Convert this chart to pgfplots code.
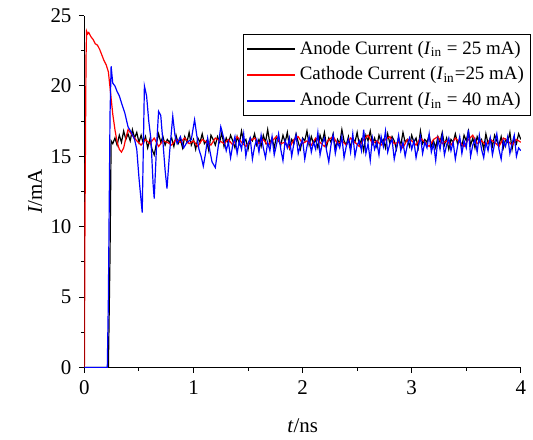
\documentclass[border=0pt]{standalone}
\usepackage{fontspec}
\setmainfont{Liberation Serif}
\usepackage{pgfplots}
\pgfplotsset{compat=1.18}

\begin{document}
\fontsize{10.5}{12}\selectfont
\begin{tikzpicture}
\begin{axis}[
    scale only axis,
    width=219pt,
    height=176.5pt,
    xmin=0, xmax=4,
    ymin=0, ymax=25,
    axis x line*=bottom,
    axis y line*=left,
    xtick={0,1,2,3,4},
    ytick={0,5,10,15,20,25},
    minor xtick={0.5,1.5,2.5,3.5},
    minor ytick={2.5,7.5,12.5,17.5,22.5},
    tick align=outside,
    major tick length=2.8pt,
    minor tick length=1.8pt,
    tick style={black, line width=0.5pt},
    axis line style={black, line width=0.5pt},
    /pgf/number format/assume math mode=true,
    ticklabel style={font=\fontsize{10.5}{12}\selectfont},
    xlabel={\textit{t}/ns},
    ylabel={\textit{I}/mA},
    label style={font=\fontsize{10.5}{12}\selectfont},
    xlabel style={yshift=-5pt},
    ylabel style={yshift=-3pt},
    legend style={at={(1.024,0.949)}, anchor=north east, draw=black,
        font=\fontsize{9.5}{11}\selectfont, inner sep=1.5pt, row sep=0.8pt,
        legend cell align=left},
    legend image code/.code={\draw[#1, line width=0.8pt] (0pt,0pt) -- (24pt,0pt);},
]
% anode current, I_in = 25 mA
\addplot[black, line width=0.6pt] coordinates {
(0,0) (0.22,0) (0.235,8) (0.245,16.1)
(0.26,15.9) (0.28,16.3) (0.30,15.8) (0.32,16.5) (0.34,16.0) (0.36,16.8) (0.38,16.2) (0.40,16.6) (0.42,16.1) (0.44,16.9)
(0.46,16.3) (0.48,16.7) (0.50,16.0) (0.52,16.5) (0.54,15.9) (0.56,16.4) (0.58,15.6) (0.60,16.2) (0.62,15.5) (0.64,15.1)
(0.66,15.9) (0.68,16.6) (0.70,16.0) (0.72,16.4) (0.74,15.8) (0.76,16.2) (0.78,16.0)
(0.80,16.3) (0.82,15.7) (0.84,16.5) (0.86,15.9) (0.88,16.2) (0.90,15.6) (0.92,16.4) (0.94,16.0) (0.96,16.7) (0.98,15.8)
(1.00,16.2) (1.02,15.5) (1.04,16.3) (1.06,16.0) (1.08,16.6) (1.10,15.9) (1.12,16.1) (1.14,15.4) (1.16,16.5) (1.18,16.2)
(1.20,15.8) (1.22,16.4) (1.24,16.0) (1.26,16.7) (1.28,15.7) (1.30,16.3) (1.32,15.9) (1.34,16.5) (1.36,16.1) (1.38,15.6)
(1.40,16.4) (1.42,15.9) (1.44,16.8) (1.46,16.0) (1.48,16.2) (1.50,15.5) (1.52,16.3) (1.54,16.1) (1.56,16.6) (1.58,15.8)
(1.60,16.2) (1.62,15.7) (1.64,16.5) (1.66,16.0) (1.68,16.9) (1.70,15.9) (1.72,16.3) (1.74,15.6) (1.76,16.4) (1.78,16.1)
(1.80,15.8) (1.82,16.5) (1.84,16.0) (1.86,16.7) (1.88,15.6) (1.90,16.2) (1.92,15.9) (1.94,16.6) (1.96,16.0) (1.98,15.5)
(2.00,16.3) (2.02,16.1) (2.04,16.8) (2.06,15.8) (2.08,16.4) (2.10,15.9) (2.12,16.2) (2.14,15.6) (2.16,16.5) (2.18,16.0)
(2.20,16.7) (2.22,15.7) (2.24,16.3) (2.26,16.0) (2.28,16.6) (2.30,15.5) (2.32,16.2) (2.34,15.9) (2.36,16.9) (2.38,16.1)
(2.40,15.8) (2.42,16.4) (2.44,15.6) (2.46,16.3) (2.48,16.0) (2.50,16.7) (2.52,15.8) (2.54,16.2) (2.56,15.4) (2.58,16.5)
(2.60,16.1) (2.62,16.8) (2.64,15.9) (2.66,16.3) (2.68,15.7) (2.70,16.5) (2.72,16.0) (2.74,16.2) (2.76,15.6) (2.78,16.6)
(2.80,15.9) (2.82,16.4) (2.84,16.1) (2.86,15.5) (2.88,16.3) (2.90,15.8) (2.92,16.7) (2.94,16.0) (2.96,16.2) (2.98,15.7)
(3.00,16.5) (3.02,16.0) (3.04,16.3) (3.06,15.6) (3.08,16.8) (3.10,15.9) (3.12,16.2) (3.14,16.0) (3.16,16.5) (3.18,15.7)
(3.20,16.1) (3.22,15.6) (3.24,16.4) (3.26,16.0) (3.28,16.7) (3.30,15.8) (3.32,16.3) (3.34,15.5) (3.36,16.2) (3.38,16.0)
(3.40,16.6) (3.42,15.9) (3.44,16.2) (3.46,15.7) (3.48,16.5) (3.50,16.1) (3.52,16.8) (3.54,15.8) (3.56,16.3) (3.58,15.6)
(3.60,16.4) (3.62,16.0) (3.64,16.2) (3.66,15.5) (3.68,16.6) (3.70,15.9) (3.72,16.3) (3.74,15.7) (3.76,16.5) (3.78,16.1)
(3.80,15.8) (3.82,16.4) (3.84,15.6) (3.86,16.2) (3.88,16.0) (3.90,16.7) (3.92,15.5) (3.94,16.3) (3.96,15.9) (3.98,16.6)
(4.00,16.2)
};
\addlegendentry{Anode Current (\textit{I}\textsubscript{in} = 25 mA)}
% cathode current, I_in = 25 mA
\addplot[red, line width=0.6pt] coordinates {
(0,0) (0.005,10) (0.015,22) (0.02,23.9) (0.03,23.7) (0.04,23.8) (0.06,23.5) (0.08,23.3) (0.10,23.0) (0.12,22.9)
(0.14,22.6) (0.16,22.2) (0.18,21.8) (0.20,21.5) (0.22,21.0) (0.24,19.5) (0.26,18.0) (0.28,16.9) (0.30,16.0) (0.32,15.5)
(0.34,15.3) (0.36,15.6) (0.38,16.3) (0.40,16.9)
(0.44,16.5) (0.48,16.1) (0.52,15.8) (0.56,16.2) (0.60,15.9) (0.64,16.3) (0.68,15.7) (0.72,16.1) (0.76,16.0) (0.80,15.8)
(0.84,16.2) (0.88,16.0) (0.92,16.3) (0.96,15.9) (1.00,16.1) (1.04,15.7) (1.08,16.2) (1.12,16.0) (1.16,15.8) (1.20,16.3)
(1.24,16.1) (1.28,15.9) (1.32,16.2) (1.36,15.8) (1.40,16.4) (1.44,16.0) (1.48,15.7) (1.52,16.1) (1.56,16.3) (1.60,15.9)
(1.64,16.2) (1.68,15.8) (1.72,16.1) (1.76,16.4) (1.80,15.9) (1.84,16.0) (1.88,15.6) (1.92,16.2) (1.96,16.4) (2.00,15.9)
(2.04,16.1) (2.08,15.8) (2.12,16.3) (2.16,16.0) (2.20,15.7) (2.24,16.2) (2.28,16.4) (2.32,15.9) (2.36,16.1) (2.40,15.8)
(2.44,16.3) (2.48,16.0) (2.52,15.7) (2.56,16.2) (2.60,16.5) (2.64,15.9) (2.68,16.1) (2.72,15.8) (2.76,16.2) (2.80,16.4)
(2.84,15.9) (2.88,16.0) (2.92,15.6) (2.96,16.2) (3.00,16.1) (3.04,15.8) (3.08,16.3) (3.12,16.0) (3.16,15.7) (3.20,16.2)
(3.24,16.4) (3.28,15.9) (3.32,16.1) (3.36,15.8) (3.40,16.3) (3.44,16.0) (3.48,15.7) (3.52,16.2) (3.56,16.5) (3.60,15.9)
(3.64,16.1) (3.68,15.8) (3.72,16.2) (3.76,16.0) (3.80,15.7) (3.84,16.3) (3.88,16.1) (3.92,15.8) (3.96,16.2) (4.00,16.0)
};
\addlegendentry{Cathode Current (\textit{I}\textsubscript{in}=25 mA)}
% anode current, I_in = 40 mA
\addplot[blue, line width=0.6pt] coordinates {
(0,0) (0.21,0) (0.22,5) (0.235,18) (0.245,21.4) (0.26,20.2) (0.28,20.0) (0.30,19.6) (0.32,19.3) (0.34,18.8)
(0.37,18.1) (0.40,17.1) (0.43,16.7) (0.46,16.2) (0.48,15.5) (0.50,13.5) (0.53,11.0) (0.55,20.0) (0.57,19.3) (0.59,17.5)
(0.61,16.2) (0.63,13.0) (0.64,12.0) (0.66,15.5) (0.68,18.2) (0.70,17.9) (0.72,16.0) (0.74,14.0) (0.757,12.7) (0.78,15.2)
(0.81,17.85) (0.83,16.5) (0.85,15.9) (0.88,16.4) (0.91,15.6) (0.94,16.0) (0.98,16.2) (1.01,17.6) (1.03,16.5) (1.05,15.5)
(1.07,15.0) (1.09,14.3) (1.11,15.2) (1.13,16.3) (1.15,15.4) (1.17,14.6) (1.20,14.2) (1.22,15.3) (1.25,17.1)
(1.28,16.2) (1.30,15.4) (1.32,16.0) (1.34,14.9) (1.36,15.8) (1.38,16.4) (1.40,15.2) (1.42,16.1) (1.44,15.5) (1.46,16.6)
(1.48,15.0) (1.50,15.9) (1.52,16.3) (1.54,14.8) (1.56,15.7) (1.58,16.2) (1.60,15.3) (1.62,16.5) (1.64,15.6) (1.66,14.9)
(1.68,16.0) (1.70,15.4) (1.72,16.4) (1.74,15.1) (1.76,15.8) (1.78,16.6) (1.80,15.5) (1.82,14.7) (1.84,16.1) (1.86,15.6)
(1.88,16.3) (1.90,15.0) (1.92,15.9) (1.94,16.5) (1.96,15.2) (1.98,15.8) (2.00,16.2) (2.02,14.8) (2.04,15.7) (2.06,16.4)
(2.08,15.3) (2.10,16.0) (2.12,15.5) (2.14,16.7) (2.16,15.1) (2.18,15.9) (2.20,16.3) (2.22,15.4) (2.24,14.6) (2.26,15.8)
(2.28,16.5) (2.30,15.2) (2.32,16.0) (2.34,15.6) (2.36,16.4) (2.38,14.9) (2.40,15.7) (2.42,16.2) (2.44,15.3) (2.46,16.6)
(2.48,15.0) (2.50,15.8) (2.52,16.1) (2.54,15.4) (2.56,16.9) (2.58,15.2) (2.60,15.9) (2.62,14.7) (2.64,16.3) (2.66,15.5)
(2.68,16.0) (2.70,15.1) (2.72,16.4) (2.74,15.7) (2.76,16.8) (2.78,15.3) (2.80,15.9) (2.82,16.2) (2.84,14.8) (2.86,15.6)
(2.88,16.5) (2.90,15.4) (2.92,16.0) (2.94,15.0) (2.96,15.8) (2.98,16.3) (3.00,15.5) (3.02,16.1) (3.04,14.9) (3.06,15.7)
(3.08,16.4) (3.10,15.2) (3.12,16.0) (3.14,15.6) (3.16,16.6) (3.18,15.3) (3.20,15.9) (3.22,14.7) (3.24,16.2) (3.26,15.5)
(3.28,16.5) (3.30,15.1) (3.32,15.8) (3.34,16.3) (3.36,15.4) (3.38,16.0) (3.40,14.8) (3.42,15.7) (3.44,16.4) (3.46,15.2)
(3.48,16.1) (3.50,15.6) (3.52,16.9) (3.54,15.0) (3.56,15.8) (3.58,16.2) (3.60,15.3) (3.62,16.5) (3.64,15.5) (3.66,14.9)
(3.68,16.0) (3.70,15.4) (3.72,16.3) (3.74,15.1) (3.76,15.9) (3.78,16.6) (3.80,15.5) (3.82,14.8) (3.84,16.1) (3.86,15.7)
(3.88,16.4) (3.90,15.2) (3.92,15.9) (3.94,16.5) (3.96,15.0) (3.98,15.6) (4.00,15.4)
};
\addlegendentry{Anode Current (\textit{I}\textsubscript{in} = 40 mA)}
\end{axis}
\path ([xshift=-42.35pt,yshift=-34.5pt]current axis.south west) rectangle ([xshift=5pt,yshift=7.85pt]current axis.north east);
\end{tikzpicture}
\end{document}
